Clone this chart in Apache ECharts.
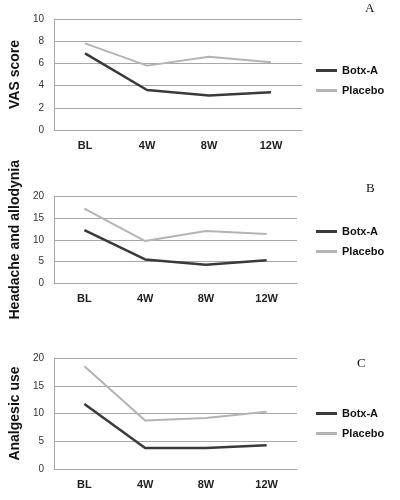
<!DOCTYPE html>
<html><head><meta charset="utf-8">
<script src="https://cdn.jsdelivr.net/npm/echarts@6/dist/echarts.min.js"></script>
<style>html,body{margin:0;padding:0;background:#fff}#c{width:400px;height:500px}</style>
</head><body><div id="c"></div>
<script>
const categories = ['BL', '4W', '8W', '12W'];
const vasBotx = [6.9, 3.6, 3.1, 3.4];
const vasPlacebo = [7.8, 5.8, 6.6, 6.1];
const haBotx = [12.2, 5.5, 4.3, 5.3];
const haPlacebo = [17.1, 9.7, 12.0, 11.3];
const anBotx = [11.7, 3.8, 3.8, 4.3];
const anPlacebo = [18.5, 8.75, 9.2, 10.3];
const yTitles = ['VAS score', 'Headache and allodynia', 'Analgesic use'];
const panelLetters = ['A', 'B', 'C'];
const seriesNames = ['Botx-A', 'Placebo'];

const grids = [
  {left: 52, right: 98, top: 19, height: 111},
  {left: 49, right: 103, top: 196, height: 87.5},
  {left: 49, right: 103, top: 358, height: 111}
];
const yMax = [10, 20, 20];
const yInt = [2, 5, 5];
const data = [[vasBotx, vasPlacebo], [haBotx, haPlacebo], [anBotx, anPlacebo]];
const legendTops = [65, 226, 408];
const letterPos = [[365, 2], [366, 182], [357, 357]];
const gridCol = '#a8a8a8';
const colors = ['#3a3a3a', '#b4b4b4'];

const xAxis = [], yAxis = [], series = [], legend = [], graphic = [];
grids.forEach((g, i) => {
  xAxis.push({
    type: 'category', gridIndex: i, data: categories, boundaryGap: true,
    axisLine: {lineStyle: {color: gridCol, width: 1}}, axisTick: {show: false},
    axisLabel: {color: '#222', fontFamily: 'Liberation Sans', fontWeight: 'bold', fontSize: 11, margin: 10}
  });
  yAxis.push({
    type: 'value', gridIndex: i, min: 0, max: yMax[i], interval: yInt[i],
    axisLine: {show: true, lineStyle: {color: gridCol, width: 1}}, axisTick: {show: false},
    splitLine: {lineStyle: {color: gridCol, width: 1}},
    axisLabel: {color: '#333', fontFamily: 'Liberation Sans', fontSize: 10, margin: 10},
    name: yTitles[i], nameLocation: 'middle', nameRotate: 90, nameGap: 29,
    nameTextStyle: {color: '#111', fontFamily: 'Liberation Sans', fontWeight: 'bold', fontSize: 14}
  });
  seriesNames.forEach((n, k) => {
    series.push({
      name: n, type: 'line', xAxisIndex: i, yAxisIndex: i, data: data[i][k],
      symbol: 'none', lineStyle: {color: colors[k], width: k === 0 ? 2.5 : 2},
      itemStyle: {color: colors[k]}, z: k === 0 ? 3 : 2
    });
  });
  legend.push({
    orient: 'vertical', left: 316, top: legendTops[i], data: seriesNames, padding: 0,
    icon: 'rect', itemWidth: 21, itemHeight: 3, itemGap: 9,
    textStyle: {color: '#111', fontFamily: 'Liberation Sans', fontWeight: 'bold', fontSize: 11}
  });
  graphic.push({
    type: 'text', left: letterPos[i][0], top: letterPos[i][1],
    style: {text: panelLetters[i], fill: '#111', font: '13px "Liberation Serif"'}
  });
});

const chart = echarts.init(document.getElementById('c'), null, {renderer: 'canvas'});
chart.setOption({
  animation: false, backgroundColor: '#fff',
  grid: grids, xAxis, yAxis, series, legend, graphic
});
</script></body></html>
